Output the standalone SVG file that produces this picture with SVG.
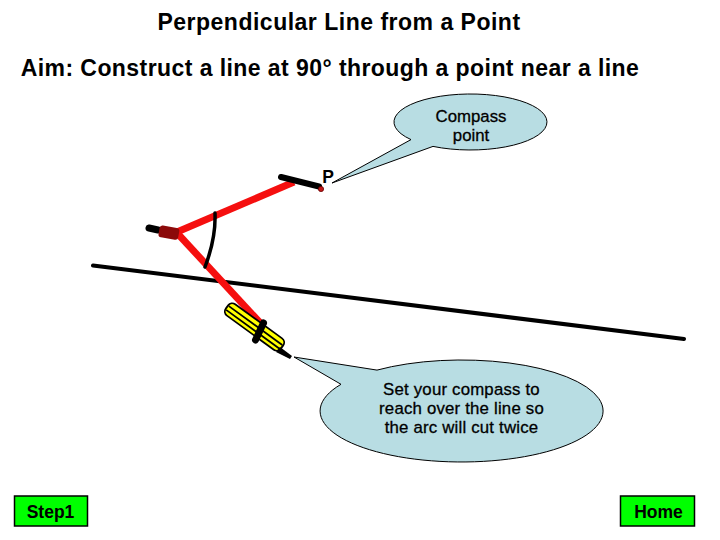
<svg xmlns="http://www.w3.org/2000/svg" width="720" height="540" viewBox="0 0 720 540">
<style>
text{font-family:"Liberation Sans",Arial,sans-serif;fill:#000;text-anchor:middle}
.t{font-size:23px;font-weight:bold;letter-spacing:.5px}
.a{letter-spacing:.43px}
.c{font-size:16.800px;stroke:#000;stroke-width:.3px}
.l{letter-spacing:.2px}
.b{font-size:17.500px;font-weight:bold}
.callout{fill:#b8dde3;stroke:#000;stroke-width:1}
.btn{fill:#00ff00;stroke:#000;stroke-width:1.500}
.red{stroke:#f50f0f;stroke-width:7;fill:none}
.blk{stroke:#000;fill:none;stroke-linecap:round}
</style>
<rect width="720" height="540" fill="#fff"/>
<text class="t" x="339" y="30">Perpendicular Line from a Point</text>
<text class="t a" x="330" y="76">Aim: Construct a line at 90° through a point near a line</text>
<g id="connectors">
<path class="blk" d="M93 265.500L684 339" stroke-width="4" stroke-linecap="butt"/>
</g>
<g id="compass">
<path class="red" d="M294 182L177 232"/>
<path class="red" d="M178 234L264 327"/>
<g transform="translate(254.500 327) rotate(36)">
<rect x="-34" y="-7" width="68" height="14" rx="5" fill="#ff0" stroke="#000" stroke-width="1.800"/>
<path d="M-33-1.800H33M-33 2.800H33" stroke="#000" stroke-width="1.800"/>
</g>
<path class="blk" d="M263.500 323L255.500 340" stroke-width="7"/>
<path d="M280 347L292 356L290 359L276 352Z" fill="#000"/>
<path class="blk" d="M281 177L319 186.500" stroke-width="6"/>
<circle cx="321" cy="189" r="2.600" fill="#c01818" stroke="#600" stroke-width=".8"/>
<path class="blk" d="M149 228L158 230" stroke-width="7"/>
<rect x="159" y="226.500" width="20" height="12" rx="3" fill="#8c0a0a" transform="rotate(10 168 232)"/>
<path class="blk" d="M215 213Q216 238 205 267" stroke-width="3.500"/>
</g>
<g id="callout-compass-point">
<path class="callout" d="M411 139.600A76.500 28 0 1 1 433 146.400L332 183Z"/>
<text class="c" x="471" y="122">Compass</text>
<text class="c" x="471" y="141">point</text>
</g>
<g id="callout-set-compass">
<path class="callout" d="M377 370.100A141.500 51 0 1 1 341 384.300L294 357Z"/>
<text class="c l" x="461.500" y="395">Set your compass to</text>
<text class="c l" x="461.500" y="414">reach over the line so</text>
<text class="c l" x="461.500" y="433">the arc will cut twice</text>
</g>
<text class="b" x="328" y="183">P</text>
<g id="step1">
<rect class="btn" x="14.500" y="496" width="73" height="30"/>
<text class="b" x="50.500" y="518">Step1</text>
</g>
<g id="home">
<rect class="btn" x="620.500" y="496" width="74" height="30"/>
<text class="b" x="658.500" y="518">Home</text>
</g>
</svg>
